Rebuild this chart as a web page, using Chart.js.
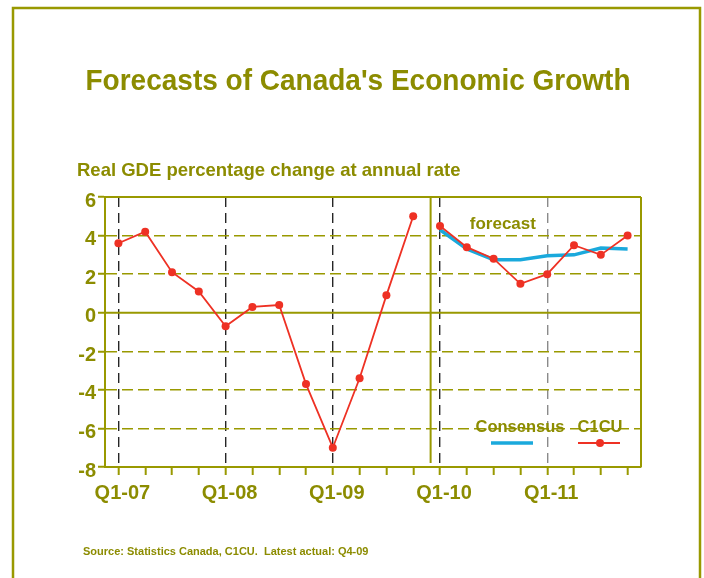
<!DOCTYPE html>
<html>
<head>
<meta charset="utf-8">
<script src="https://cdn.jsdelivr.net/npm/chart.js@4.4.1/dist/chart.umd.min.js"></script>
<style>
  html, body { margin: 0; padding: 0; background: #fff; }
  #wrap { width: 704px; height: 578px; position: relative; }
</style>
</head>
<body>
<div id="wrap"><canvas id="chart"></canvas></div>
<script>
const quarters = ['Q1-07', 'Q2-07', 'Q3-07', 'Q4-07', 'Q1-08', 'Q2-08', 'Q3-08', 'Q4-08',
  'Q1-09', 'Q2-09', 'Q3-09', 'Q4-09', 'Q1-10', 'Q2-10', 'Q3-10', 'Q4-10',
  'Q1-11', 'Q2-11', 'Q3-11', 'Q4-11'];
const c1cuActual = [3.6, 4.2, 2.1, 1.1, -0.7, 0.3, 0.4, -3.7, -7.0, -3.4, 0.9, 5.0];
const c1cuForecast = [4.5, 3.4, 2.8, 1.5, 2.0, 3.5, 3.0, 4.0];
const consensusForecast = [4.3, 3.3, 2.75, 2.75, 2.95, 3.0, 3.35, 3.3];

const TITLE = "Forecasts of Canada's Economic Growth";
const SUBTITLE = 'Real GDE percentage change at annual rate';
const SOURCE = 'Source: Statistics Canada, C1CU.  Latest actual: Q4-09';

const OLIVE = '#999900';
const TEXT = '#8c8c00';
const RED = '#ee3124';
const BLUE = '#1aa9dc';
const FONT = '"Liberation Sans", Arial, sans-serif';

Chart.defaults.font.family = FONT;

function line(ctx, x1, y1, x2, y2) {
  ctx.beginPath();
  ctx.moveTo(x1, y1);
  ctx.lineTo(x2, y2);
  ctx.stroke();
}

const decor = {
  id: 'decor',
  beforeDatasetsDraw(chart) {
    const { ctx, chartArea: a, scales: { x, y } } = chart;
    ctx.save();
    ctx.strokeStyle = OLIVE;
    ctx.lineWidth = 2;
    const y0 = y.getPixelForValue(0);
    line(ctx, a.left, y0, a.right, y0);
    line(ctx, a.left, a.top, a.right, a.top);
    line(ctx, a.right, a.top, a.right, a.bottom);
    // split between actual data and forecast
    const last = c1cuActual.length - 1;
    const x1 = x.getPixelForValue(last), x2 = x.getPixelForValue(last + 1);
    const xs = x1 + 0.65 * (x2 - x1);
    line(ctx, xs, a.top, xs, a.bottom - 4);
    ctx.restore();
  },
  afterDraw(chart) {
    const { ctx, scales: { x, y } } = chart;
    ctx.save();
    ctx.fillStyle = TEXT;
    ctx.textBaseline = 'alphabetic';

    // title is a bit taller than plain Arial in the original
    ctx.save();
    ctx.font = `bold 28px ${FONT}`;
    ctx.textAlign = 'center';
    ctx.translate(358, 90);
    ctx.scale(1, 1.07);
    ctx.fillText(TITLE, 0, 0);
    ctx.restore();

    ctx.textAlign = 'left';
    ctx.font = `bold 18.5px ${FONT}`;
    ctx.fillText(SUBTITLE, 77, 176);

    ctx.font = `bold 11px ${FONT}`;
    ctx.fillText(SOURCE, 83, 555);

    ctx.font = `bold 17px ${FONT}`;
    ctx.fillText('forecast', x.getPixelForValue(13) + 3, y.getPixelForValue(4) - 7);

    // legend
    ctx.font = `bold 16.5px ${FONT}`;
    ctx.textAlign = 'center';
    ctx.fillText('Consensus', 520, 432);
    ctx.fillText('C1CU', 600, 432);
    ctx.lineWidth = 3.5;
    ctx.strokeStyle = BLUE;
    line(ctx, 491, 443, 533, 443);
    ctx.lineWidth = 1.8;
    ctx.strokeStyle = RED;
    line(ctx, 578, 443, 620, 443);
    ctx.fillStyle = RED;
    ctx.beginPath();
    ctx.arc(600, 443, 4, 0, Math.PI * 2);
    ctx.fill();

    // outer frame
    ctx.strokeStyle = OLIVE;
    ctx.lineWidth = 2.5;
    ctx.strokeRect(13, 8, 687, 640);
    ctx.restore();
  }
};

const data = {
  labels: quarters,
  datasets: [
    {
      label: 'C1CU',
      data: c1cuActual.concat(c1cuForecast),
      borderColor: RED,
      backgroundColor: RED,
      borderWidth: 1.8,
      pointRadius: 4,
      pointBorderWidth: 0,
      pointBackgroundColor: RED,
      segment: {
        borderColor: c => c.p0DataIndex === c1cuActual.length - 1 ? 'transparent' : undefined
      }
    },
    {
      label: 'Consensus',
      data: c1cuActual.map(() => null).concat(consensusForecast),
      borderColor: BLUE,
      borderWidth: 3.5,
      pointRadius: 0
    }
  ]
};

const config = {
  type: 'line',
  data: data,
  options: {
    animation: false,
    responsive: true,
    maintainAspectRatio: false,
    layout: {
      padding: { left: 60, right: 63, top: 197, bottom: 51 }
    },
    plugins: {
      legend: { display: false },
      tooltip: { enabled: false }
    },
    scales: {
      x: {
        offset: true,
        grid: {
          offset: false,
          color: c => c.index % 4 === 0 ? (c.index === 16 ? '#8a8a8a' : '#262626') : 'transparent',
          lineWidth: 1.4,
          tickColor: OLIVE,
          tickWidth: 2,
          tickLength: 8
        },
        border: { color: OLIVE, width: 2, dash: [10, 6] },
        ticks: {
          autoSkip: false,
          maxRotation: 0,
          padding: 6,
          labelOffset: 4,
          color: TEXT,
          font: { size: 20, weight: 'bold' },
          callback: (v, i) => i % 4 === 0 ? quarters[i] : ''
        },
        afterFit(s) { s.height = 60; }
      },
      y: {
        min: -8,
        max: 6,
        ticks: {
          stepSize: 2,
          padding: 2,
          labelOffset: 4,
          color: TEXT,
          font: { size: 20, weight: 'bold' }
        },
        grid: {
          color: c => [0, 6, -8].includes(c.tick.value) ? 'transparent' : OLIVE,
          lineWidth: 1.5,
          tickColor: OLIVE,
          tickWidth: 2,
          tickLength: 7
        },
        border: { color: OLIVE, width: 2, dash: [11, 5] },
        afterFit(s) { s.width = 45; }
      }
    }
  },
  plugins: [decor]
};

new Chart(document.getElementById('chart'), config);
</script>
</body>
</html>
